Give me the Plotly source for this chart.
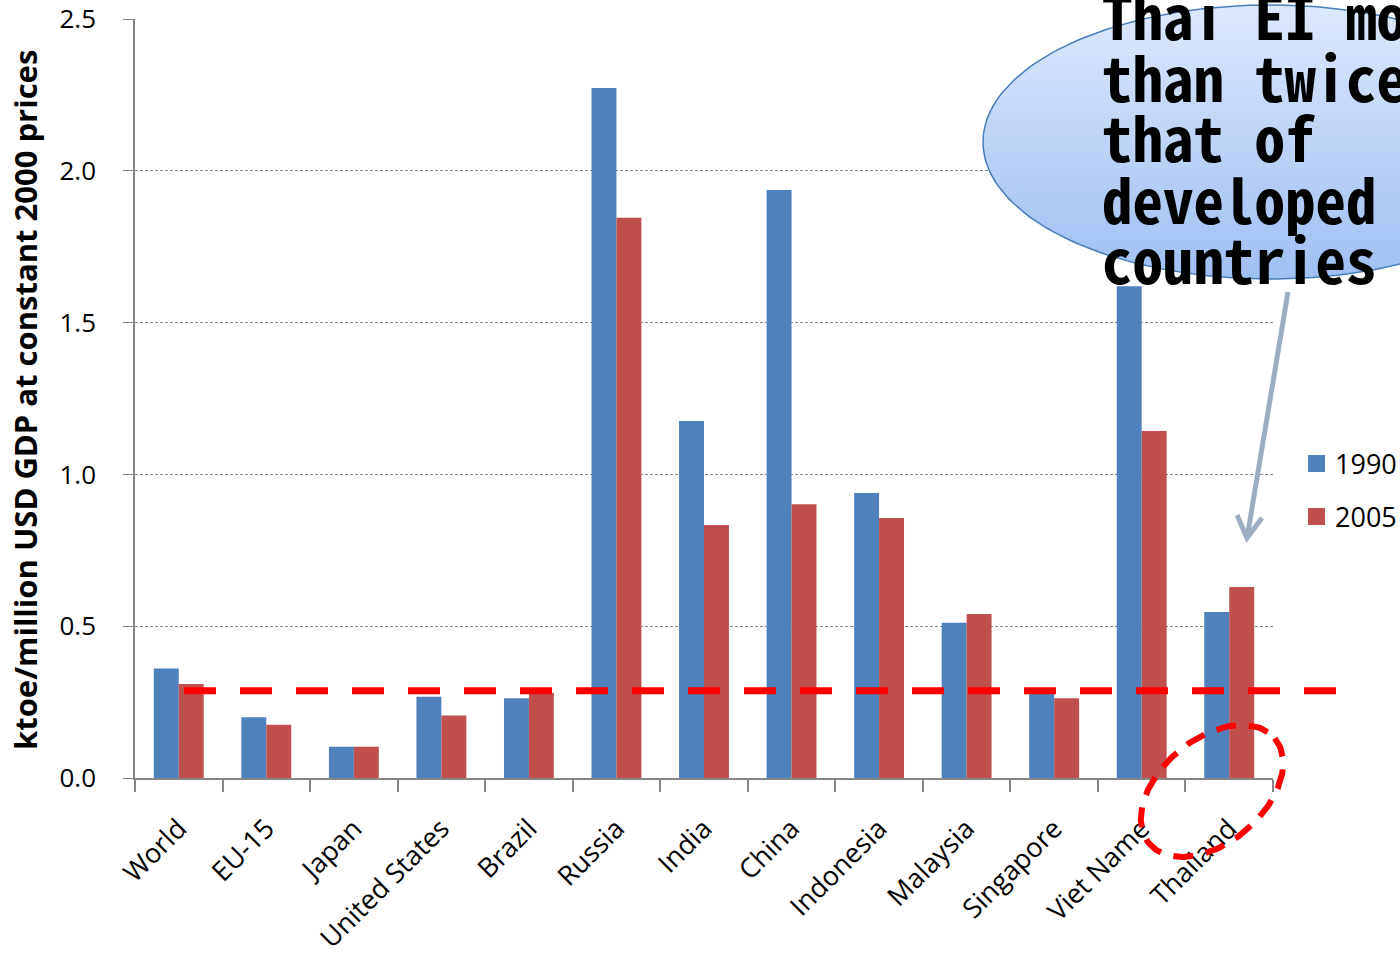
import numpy as np
import plotly.graph_objects as go

# ---------------- data ----------------
countries = ["World", "EU-15", "Japan", "United States", "Brazil", "Russia", "India",
             "China", "Indonesia", "Malaysia", "Singapore", "Viet Name", "Thailand"]
ei_1990 = [0.361, 0.200, 0.103, 0.268, 0.263, 2.273, 1.176, 1.937, 0.939, 0.511, 0.288, 1.62, 0.547]
ei_2005 = [0.310, 0.175, 0.103, 0.206, 0.280, 1.845, 0.833, 0.902, 0.856, 0.540, 0.263, 1.143, 0.629]
series_names = ["1990", "2005"]
threshold = 0.287
y_ticks = [0.0, 0.5, 1.0, 1.5, 2.0, 2.5]
y_title = "ktoe/million USD GDP at constant 2000 prices"
callout_lines = ["Thai EI more", "than twice", "that of", "developed", "countries"]

# ---------------- styles ----------------
W, H = 1400, 958
BLUE, RED = "#4F81BD", "#C0504D"
GRAY = "#868686"
FONT = "Open Sans, Lato, DejaVu Sans, sans-serif"
MONO = "Noto Sans Mono CJK JP, Noto Sans Mono CJK SC, DejaVu Sans Mono, monospace"

plot_l, plot_r, plot_t, plot_b = 135, 1273, 19, 778

fig = go.Figure()
fig.add_bar(x=countries, y=ei_1990, name=series_names[0], marker=dict(color=BLUE, line=dict(width=0)),
            xaxis="x", yaxis="y", showlegend=False)
fig.add_bar(x=countries, y=ei_2005, name=series_names[1], marker=dict(color=RED, line=dict(width=0)),
            xaxis="x", yaxis="y", showlegend=False)

# --- callout ellipse (pixel overlay axes) ---
t = np.linspace(0, 2 * np.pi, 200)
cx, cy, rx, ry = 1270, 142, 287, 137
fig.add_trace(go.Scatter(
    x=cx + rx * np.cos(t), y=cy + ry * np.sin(t), xaxis="x2", yaxis="y2",
    mode="lines", fill="toself",
    fillgradient=dict(type="vertical", colorscale=[[0, "#DDE8FC"], [1, "#A0BFF3"]], start=5, stop=279),
    line=dict(color="#4A7EBB", width=1.5), hoverinfo="skip", showlegend=False))

# --- red dashed ellipse around Thailand ---
ecx, ecy, ea, eb, ang = 1212, 791, 82, 52, np.deg2rad(-40)
ex = ecx + ea * np.cos(t) * np.cos(ang) - eb * np.sin(t) * np.sin(ang)
ey = ecy + ea * np.cos(t) * np.sin(ang) + eb * np.sin(t) * np.cos(ang)
fig.add_trace(go.Scatter(x=ex, y=ey, xaxis="x2", yaxis="y2", mode="lines",
                         line=dict(color="#FF0000", width=6, dash="20px,13px"),
                         hoverinfo="skip", showlegend=False))

shapes = [
    dict(type="line", xref="paper", yref="y", x0=184 / W, x1=1336 / W, y0=threshold, y1=threshold,
         line=dict(color="#FF0000", width=7, dash="32px,24px")),
    # arrow
    dict(type="path", xref="x2", yref="y2", path="M1288,292 L1247,538",
         line=dict(color="#9DAEC2", width=5)),
    dict(type="path", xref="x2", yref="y2", path="M1237,515 L1247,538 L1262,518",
         line=dict(color="#9DAEC2", width=5)),
    # legend swatches
    dict(type="rect", xref="x2", yref="y2", x0=1308, x1=1325, y0=455, y1=472,
         fillcolor=BLUE, line=dict(width=0)),
    dict(type="rect", xref="x2", yref="y2", x0=1308, x1=1325, y0=508, y1=525,
         fillcolor=RED, line=dict(width=0)),
]

annotations = [
    dict(xref="x2", yref="y2", x=25, y=400, text=f"<b>{y_title}</b>", textangle=-90,
         showarrow=False, font=dict(family=FONT, size=31, color="black")),
    dict(xref="x2", yref="y2", x=1333, y=463, text=series_names[0], xanchor="left", yanchor="middle",
         showarrow=False, font=dict(family=FONT, size=27, color="black")),
    dict(xref="x2", yref="y2", x=1333, y=516, text=series_names[1], xanchor="left", yanchor="middle",
         showarrow=False, font=dict(family=FONT, size=27, color="black")),
]
baselines = [38, 100, 160, 222, 282]
for line, bl in zip(callout_lines, baselines):
    annotations.append(dict(xref="x2", yref="y2", x=1100, y=bl - 25, text=f"<b>{line}</b>",
                            xanchor="left", yanchor="middle", showarrow=False,
                            font=dict(family=MONO, size=61, color="black")))

fig.update_layout(
    width=W, height=H, margin=dict(l=0, r=0, t=0, b=0),
    paper_bgcolor="white", plot_bgcolor="rgba(0,0,0,0)",
    barmode="group", bargap=0.43, bargroupgap=0,
    xaxis=dict(domain=[plot_l / W, plot_r / W], anchor="y", type="category",
               tickangle=-45, ticks="outside", tickson="boundaries", ticklen=12, tickcolor=GRAY,
               tickwidth=1.5, showline=True, linecolor=GRAY, linewidth=2, showgrid=False,
               tickfont=dict(family=FONT, size=27, color="black"), ticklabelstandoff=22,
               automargin=False, fixedrange=True),
    yaxis=dict(domain=[(H - plot_b) / H, (H - plot_t) / H], anchor="x", range=[0, 2.5],
               tickvals=y_ticks, tickformat=".1f", showgrid=True, gridcolor=GRAY, griddash="3px,2px",
               gridwidth=1, showline=True, linecolor=GRAY, linewidth=1.5, ticks="outside", ticklen=10,
               tickcolor=GRAY, zeroline=False, tickfont=dict(family=FONT, size=26, color="black"),
               ticklabelstandoff=22, automargin=False, fixedrange=True),
    xaxis2=dict(domain=[0, 1], anchor="y2", range=[0, W], visible=False, fixedrange=True),
    yaxis2=dict(domain=[0, 1], anchor="x2", range=[H, 0], visible=False, fixedrange=True),
    shapes=shapes, annotations=annotations, showlegend=False,
)

fig.write_html("out.html")
